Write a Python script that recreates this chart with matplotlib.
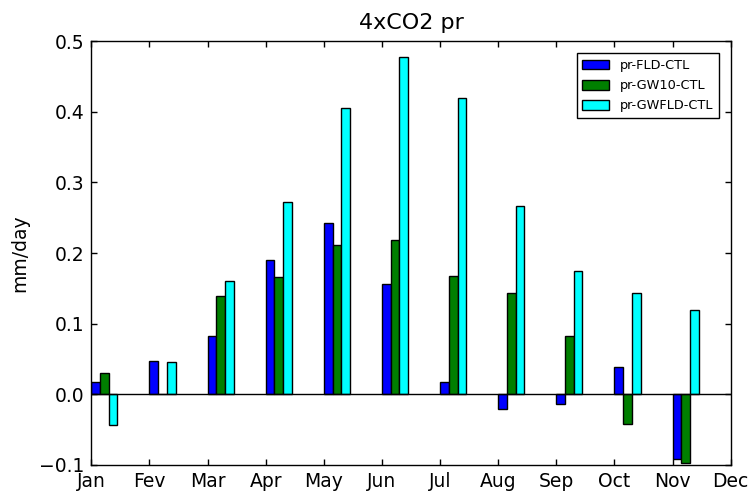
import matplotlib
matplotlib.use("Agg")
import matplotlib.pyplot as plt
import numpy as np

months = ["Jan", "Fev", "Mar", "Apr", "May", "Jun", "Jul", "Aug", "Sep", "Oct", "Nov", "Dec"]
fld = [0.017, 0.047, 0.083, 0.190, 0.242, 0.156, 0.018, -0.021, -0.014, 0.039, -0.092]
gw10 = [0.030, 0.0, 0.139, 0.166, 0.212, 0.219, 0.168, 0.144, 0.083, -0.042, -0.097]
gwfld = [-0.043, 0.046, 0.161, 0.273, 0.406, 0.477, 0.420, 0.267, 0.174, 0.144, 0.120]
labels = ["pr-FLD-CTL", "pr-GW10-CTL", "pr-GWFLD-CTL"]
colors = ["#0000ff", "#007f00", "#00ffff"]

fig = plt.figure(figsize=(7.52, 4.96), dpi=100)
ax = fig.add_axes([0.1214, 0.0625, 0.8503, 0.8545])

x = np.arange(len(fld))
w = 0.15
for i, (vals, lab, c) in enumerate(zip([fld, gw10, gwfld], labels, colors)):
    ax.bar(x + i * w, vals, width=w, align="edge", color=c, edgecolor="black",
           linewidth=1.0, label=lab)

ax.axhline(0, color="black", linewidth=1.0)
ax.set_xlim(0, 11)
ax.set_ylim(-0.1, 0.5)
ax.set_xticks(np.arange(12))
ax.set_xticklabels(months)
ax.set_yticks(np.arange(-0.1, 0.51, 0.1))
ax.set_yticklabels(["\u22120.1", "0.0", "0.1", "0.2", "0.3", "0.4", "0.5"])
ax.tick_params(direction="in", top=True, right=True, length=4.5, width=1,
               labelsize=13.5, pad=5)
for s in ax.spines.values():
    s.set_linewidth(1.0)
ax.set_ylabel("mm/day", fontsize=13.5, labelpad=7)
ax.set_title("4xCO2 pr", fontsize=16, pad=9)
leg = ax.legend(loc="upper right", fontsize=9.3, fancybox=False, framealpha=1,
                edgecolor="black", handlelength=2.1, handleheight=0.8,
                borderpad=0.45, labelspacing=0.55, handletextpad=0.8,
                bbox_to_anchor=(0.992, 0.987))
leg.get_frame().set_linewidth(1.0)

fig.savefig("out.png", dpi=100, facecolor="white")
